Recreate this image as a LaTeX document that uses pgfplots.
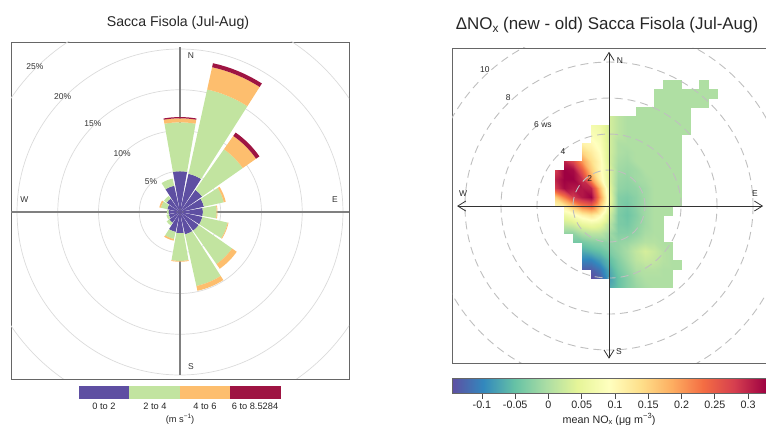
\documentclass[border=0pt]{standalone}
\usepackage{pgfplots}
\pgfplotsset{compat=1.18}
\usetikzlibrary{arrows.meta}
\usepackage{fontspec}
\setmainfont{Liberation Sans}

\definecolor{wsA}{RGB}{94,79,162}
\definecolor{wsB}{RGB}{194,228,160}
\definecolor{wsC}{RGB}{253,190,110}
\definecolor{wsD}{RGB}{158,20,66}

\newcommand\sub[1]{\raisebox{-0.3ex}{\scalebox{0.7}{#1}}}
\newcommand\sups[1]{\raisebox{0.75ex}{\scalebox{0.7}{#1}}}

% wind-rose wedge: direction (deg from N), inner %, outer %, colour
\newcommand\wsec[4]{%
  \pgfmathsetmacro\wa{80-#1}%
  \gdef\wlist{}%
  \foreach \k in {0,...,8}{\pgfmathsetmacro\ang{\wa+2.5*\k}\xdef\wlist{\wlist(\ang,#3) }}%
  \foreach \k in {8,...,0}{\pgfmathsetmacro\ang{\wa+2.5*\k}\xdef\wlist{\wlist(\ang,#2) }}%
  \edef\wtmp{\noexpand\addplot[fill=#4,draw=none,data cs=polar] coordinates {\wlist};}%
  \wtmp}

\begin{document}
\begin{tikzpicture}
\useasboundingbox (0,0) rectangle (766bp,425bp);

%================ LEFT: wind rose =================
\begin{axis}[at={(11bp,46bp)}, anchor=south west, scale only axis,
  width=338bp, height=337bp,
  xmin=-20.74, xmax=20.74, ymin=-20.49, ymax=20.86,
  xtick=\empty, ytick=\empty,
  axis line style={draw=black!60, line width=0.9bp}]
\draw[black!14, line width=0.7bp] (axis cs:0,0) circle[radius=5];
\draw[black!14, line width=0.7bp] (axis cs:0,0) circle[radius=10];
\draw[black!14, line width=0.7bp] (axis cs:0,0) circle[radius=15];
\draw[black!14, line width=0.7bp] (axis cs:0,0) circle[radius=20];
\draw[black!14, line width=0.7bp] (axis cs:0,0) circle[radius=25];
\draw[black!50, line width=1.1bp] (axis cs:-20.74,0) -- (axis cs:20.74,0);
\draw[black!50, line width=1.1bp] (axis cs:0,-20.0) -- (axis cs:0,20.3);
% direction, cumulative frequency (%) per speed class
\wsec{0}{0}{5.0}{wsA}\wsec{0}{5.0}{11.0}{wsB}\wsec{0}{11.0}{11.5}{wsC}\wsec{0}{11.5}{11.65}{wsD}
\wsec{22.5}{0}{4.8}{wsA}\wsec{22.5}{4.8}{15.4}{wsB}\wsec{22.5}{15.4}{18.2}{wsC}\wsec{22.5}{18.2}{18.7}{wsD}
\wsec{45}{0}{3.3}{wsA}\wsec{45}{3.3}{9.4}{wsB}\wsec{45}{9.4}{11.4}{wsC}\wsec{45}{11.4}{11.9}{wsD}
\wsec{67.5}{0}{3.0}{wsA}\wsec{67.5}{3.0}{5.5}{wsB}\wsec{67.5}{5.5}{5.75}{wsC}
\wsec{90}{0}{2.8}{wsA}\wsec{90}{2.8}{4.5}{wsB}\wsec{90}{4.5}{4.6}{wsC}
\wsec{112.5}{0}{2.8}{wsA}\wsec{112.5}{2.8}{6.0}{wsB}\wsec{112.5}{6.0}{6.1}{wsC}
\wsec{135}{0}{2.8}{wsA}\wsec{135}{2.8}{7.8}{wsB}\wsec{135}{7.8}{8.5}{wsC}
\wsec{157.5}{0}{2.8}{wsA}\wsec{157.5}{2.8}{9.3}{wsB}\wsec{157.5}{9.3}{9.9}{wsC}
\wsec{180}{0}{2.6}{wsA}\wsec{180}{2.6}{6.0}{wsB}\wsec{180}{6.0}{6.1}{wsC}
\wsec{202.5}{0}{2.5}{wsA}\wsec{202.5}{2.5}{3.4}{wsB}\wsec{202.5}{3.4}{3.6}{wsC}
\wsec{225}{0}{1.6}{wsA}\wsec{225}{1.6}{2.0}{wsB}
\wsec{247.5}{0}{1.4}{wsA}\wsec{247.5}{1.4}{1.7}{wsB}
\wsec{270}{0}{1.4}{wsA}\wsec{270}{1.4}{1.6}{wsB}
\wsec{292.5}{0}{1.6}{wsA}\wsec{292.5}{1.6}{2.4}{wsB}\wsec{292.5}{2.4}{2.6}{wsC}
\wsec{315}{0}{2.0}{wsA}\wsec{315}{2.0}{2.4}{wsB}
\wsec{337.5}{0}{3.3}{wsA}\wsec{337.5}{3.3}{4.2}{wsB}
\begin{scope}[every node/.style={font=\fontsize{8.5}{10}\selectfont, text=black!80}]
\node at (axis cs:1.35,19.2) {N};
\node at (axis cs:19.0,1.47) {E};
\node at (axis cs:-19.1,1.47) {W};
\node at (axis cs:1.35,-19.0) {S};
\node at (axis cs:-3.56,3.68) {5\%};
\node at (axis cs:-7.1,7.2) {10\%};
\node at (axis cs:-10.7,10.8) {15\%};
\node at (axis cs:-14.4,14.2) {20\%};
\node at (axis cs:-17.8,17.8) {25\%};
\end{scope}
\end{axis}

\node[font=\fontsize{14.2}{16}\selectfont, text=black!85] at (178bp,402bp) {Sacca Fisola (Jul-Aug)};
\fill[wsA] (79bp,26bp) rectangle (129bp,39bp);
\fill[wsB] (129bp,26bp) rectangle (180bp,39bp);
\fill[wsC] (180bp,26bp) rectangle (230bp,39bp);
\fill[wsD] (230bp,26bp) rectangle (281bp,39bp);
\begin{scope}[every node/.style={font=\fontsize{9.3}{11}\selectfont, text=black!85}]
\node at (104bp,19bp) {0 to 2};
\node at (155bp,19bp) {2 to 4};
\node at (205bp,19bp) {4 to 6};
\node at (255bp,19bp) {6 to 8.5284};
\node at (180bp,6bp) {(m s\sups{−1})};
\end{scope}

%================ RIGHT: polar plot =================
\begin{axis}[at={(452bp,62bp)}, anchor=south west, scale only axis,
  width=314bp, height=315bp,
  xmin=-8.72, xmax=8.72, ymin=-8.72, ymax=8.78,
  view={0}{90}, xtick=\empty, ytick=\empty, ztick=\empty,
  axis line style={draw=black!60, line width=0.9bp},
  colormap={spec}{rgb255=(94,79,162) rgb255=(50,136,189) rgb255=(102,194,165)
    rgb255=(171,221,164) rgb255=(230,245,152) rgb255=(255,255,191) rgb255=(254,224,139)
    rgb255=(253,174,97) rgb255=(244,109,67) rgb255=(213,62,79) rgb255=(158,1,66)},
  point meta min=-0.145, point meta max=0.327,
  unbounded coords=jump,
  colorbar horizontal,
  colorbar style={at={(parent axis.south west)}, anchor=north west, yshift=-7bp,
    scale only axis, width=314bp, height=15bp,
    xtick={-0.1,-0.05,0,0.05,0.1,0.15,0.2,0.25,0.3},
    xticklabels={-0.1,-0.05,0,0.05,0.1,0.15,0.2,0.25,0.3},
    xtick pos=bottom, tick align=outside, major tick length=5bp,
    tick style={black!70, line width=0.6bp},
    xticklabel style={font=\fontsize{10.8}{12}\selectfont, text=black!85, yshift=1bp},
    xlabel={mean NO\sub{x} (μg m\sups{−3})},
    xlabel style={font=\fontsize{10.8}{12}\selectfont, text=black!85, yshift=2bp},
    axis line style={draw=black!60}}]
\addplot3[surf, shader=interp, mesh/cols=19, point meta=z]
 table[row sep=\\, x=u, y=v, z=c] {
u v c\\
-3 -4.5 nan\\ -2.5 -4.5 nan\\ -2 -4.5 nan\\ -1.5 -4.5 nan\\ -1 -4.5 nan\\ -0.5 -4.5 nan\\ 0 -4.5 -0.07\\ 0.5 -4.5 -0.05\\ 1 -4.5 -0.03\\ 1.5 -4.5 -0.015\\ 2 -4.5 -0.005\\ 2.5 -4.5 0\\ 3 -4.5 0\\ 3.5 -4.5 0\\ 4 -4.5 nan\\ 4.5 -4.5 nan\\ 5 -4.5 nan\\ 5.5 -4.5 nan\\ 6 -4.5 nan\\
-3 -4 nan\\ -2.5 -4 nan\\ -2 -4 nan\\ -1.5 -4 nan\\ -1 -4 -0.145\\ -0.5 -4 -0.13\\ 0 -4 -0.08\\ 0.5 -4 -0.05\\ 1 -4 -0.03\\ 1.5 -4 -0.01\\ 2 -4 0\\ 2.5 -4 0\\ 3 -4 0\\ 3.5 -4 0\\ 4 -4 nan\\ 4.5 -4 nan\\ 5 -4 nan\\ 5.5 -4 nan\\ 6 -4 nan\\
-3 -3.5 nan\\ -2.5 -3.5 nan\\ -2 -3.5 nan\\ -1.5 -3.5 -0.13\\ -1 -3.5 -0.13\\ -0.5 -3.5 -0.11\\ 0 -3.5 -0.07\\ 0.5 -3.5 -0.04\\ 1 -3.5 -0.02\\ 1.5 -3.5 0\\ 2 -3.5 0.005\\ 2.5 -3.5 0.005\\ 3 -3.5 0\\ 3.5 -3.5 0\\ 4 -3.5 0\\ 4.5 -3.5 nan\\ 5 -3.5 nan\\ 5.5 -3.5 nan\\ 6 -3.5 nan\\
-3 -3 nan\\ -2.5 -3 nan\\ -2 -3 nan\\ -1.5 -3 -0.1\\ -1 -3 -0.1\\ -0.5 -3 -0.08\\ 0 -3 -0.055\\ 0.5 -3 -0.03\\ 1 -3 -0.01\\ 1.5 -3 0.01\\ 2 -3 0.02\\ 2.5 -3 0.015\\ 3 -3 0.005\\ 3.5 -3 0\\ 4 -3 0\\ 4.5 -3 nan\\ 5 -3 nan\\ 5.5 -3 nan\\ 6 -3 nan\\
-3 -2.5 nan\\ -2.5 -2.5 nan\\ -2 -2.5 nan\\ -1.5 -2.5 -0.07\\ -1 -2.5 -0.06\\ -0.5 -2.5 -0.05\\ 0 -2.5 -0.035\\ 0.5 -2.5 -0.02\\ 1 -2.5 -0.005\\ 1.5 -2.5 0.015\\ 2 -2.5 0.03\\ 2.5 -2.5 0.02\\ 3 -2.5 0.005\\ 3.5 -2.5 0\\ 4 -2.5 nan\\ 4.5 -2.5 nan\\ 5 -2.5 nan\\ 5.5 -2.5 nan\\ 6 -2.5 nan\\
-3 -2 nan\\ -2.5 -2 nan\\ -2 -2 -0.04\\ -1.5 -2 -0.04\\ -1 -2 -0.03\\ -0.5 -2 -0.025\\ 0 -2 -0.025\\ 0.5 -2 -0.02\\ 1 -2 -0.015\\ 1.5 -2 -0.005\\ 2 -2 0.005\\ 2.5 -2 0.005\\ 3 -2 0\\ 3.5 -2 0\\ 4 -2 nan\\ 4.5 -2 nan\\ 5 -2 nan\\ 5.5 -2 nan\\ 6 -2 nan\\
-3 -1.5 nan\\ -2.5 -1.5 -0.02\\ -2 -1.5 -0.02\\ -1.5 -1.5 0\\ -1 -1.5 0.01\\ -0.5 -1.5 0.01\\ 0 -1.5 -0.01\\ 0.5 -1.5 -0.03\\ 1 -1.5 -0.03\\ 1.5 -1.5 -0.02\\ 2 -1.5 -0.005\\ 2.5 -1.5 0\\ 3 -1.5 0\\ 3.5 -1.5 nan\\ 4 -1.5 nan\\ 4.5 -1.5 nan\\ 5 -1.5 nan\\ 5.5 -1.5 nan\\ 6 -1.5 nan\\
-3 -1 nan\\ -2.5 -1 0.02\\ -2 -1 0.03\\ -1.5 -1 0.05\\ -1 -1 0.06\\ -0.5 -1 0.05\\ 0 -1 0.01\\ 0.5 -1 -0.035\\ 1 -1 -0.04\\ 1.5 -1 -0.025\\ 2 -1 -0.01\\ 2.5 -1 0\\ 3 -1 0\\ 3.5 -1 nan\\ 4 -1 nan\\ 4.5 -1 nan\\ 5 -1 nan\\ 5.5 -1 nan\\ 6 -1 nan\\
-3 -0.5 nan\\ -2.5 -0.5 0.06\\ -2 -0.5 0.08\\ -1.5 -0.5 0.11\\ -1 -0.5 0.13\\ -0.5 -0.5 0.1\\ 0 -0.5 0.03\\ 0.5 -0.5 -0.035\\ 1 -0.5 -0.045\\ 1.5 -0.5 -0.03\\ 2 -0.5 -0.01\\ 2.5 -0.5 0\\ 3 -0.5 0\\ 3.5 -0.5 0\\ 4 -0.5 nan\\ 4.5 -0.5 nan\\ 5 -0.5 nan\\ 5.5 -0.5 nan\\ 6 -0.5 nan\\
-3 0 0.1\\ -2.5 0 0.12\\ -2 0 0.17\\ -1.5 0 0.22\\ -1 0 0.24\\ -0.5 0 0.16\\ 0 0 0.05\\ 0.5 0 -0.03\\ 1 0 -0.04\\ 1.5 0 -0.025\\ 2 0 -0.01\\ 2.5 0 0\\ 3 0 0\\ 3.5 0 0\\ 4 0 0\\ 4.5 0 nan\\ 5 0 nan\\ 5.5 0 nan\\ 6 0 nan\\
-3 0.5 0.16\\ -2.5 0.5 0.22\\ -2 0.5 0.28\\ -1.5 0.5 0.31\\ -1 0.5 0.33\\ -0.5 0.5 0.2\\ 0 0.5 0.06\\ 0.5 0.5 -0.03\\ 1 0.5 -0.035\\ 1.5 0.5 -0.025\\ 2 0.5 -0.01\\ 2.5 0.5 0\\ 3 0.5 0\\ 3.5 0.5 0\\ 4 0.5 0\\ 4.5 0.5 nan\\ 5 0.5 nan\\ 5.5 0.5 nan\\ 6 0.5 nan\\
-3 1 0.28\\ -2.5 1 0.32\\ -2 1 0.31\\ -1.5 1 0.31\\ -1 1 0.3\\ -0.5 1 0.17\\ 0 1 0.05\\ 0.5 1 -0.02\\ 1 1 -0.025\\ 1.5 1 -0.02\\ 2 1 -0.01\\ 2.5 1 0\\ 3 1 0\\ 3.5 1 0\\ 4 1 0\\ 4.5 1 nan\\ 5 1 nan\\ 5.5 1 nan\\ 6 1 nan\\
-3 1.5 0.3\\ -2.5 1.5 0.33\\ -2 1.5 0.33\\ -1.5 1.5 0.29\\ -1 1.5 0.2\\ -0.5 1.5 0.11\\ 0 1.5 0.04\\ 0.5 1.5 -0.015\\ 1 1.5 -0.02\\ 1.5 1.5 -0.01\\ 2 1.5 -0.005\\ 2.5 1.5 0\\ 3 1.5 0\\ 3.5 1.5 0\\ 4 1.5 0\\ 4.5 1.5 nan\\ 5 1.5 nan\\ 5.5 1.5 nan\\ 6 1.5 nan\\
-3 2 0.28\\ -2.5 2 0.33\\ -2 2 0.32\\ -1.5 2 0.25\\ -1 2 0.16\\ -0.5 2 0.1\\ 0 2 0.04\\ 0.5 2 -0.01\\ 1 2 -0.015\\ 1.5 2 -0.01\\ 2 2 0\\ 2.5 2 0\\ 3 2 0\\ 3.5 2 0\\ 4 2 0\\ 4.5 2 nan\\ 5 2 nan\\ 5.5 2 nan\\ 6 2 nan\\
-3 2.5 nan\\ -2.5 2.5 0.3\\ -2 2.5 0.27\\ -1.5 2.5 0.2\\ -1 2.5 0.14\\ -0.5 2.5 0.1\\ 0 2.5 0.03\\ 0.5 2.5 -0.005\\ 1 2.5 -0.01\\ 1.5 2.5 0\\ 2 2.5 0\\ 2.5 2.5 0\\ 3 2.5 0\\ 3.5 2.5 0\\ 4 2.5 0\\ 4.5 2.5 nan\\ 5 2.5 nan\\ 5.5 2.5 nan\\ 6 2.5 nan\\
-3 3 nan\\ -2.5 3 nan\\ -2 3 nan\\ -1.5 3 0.15\\ -1 3 0.12\\ -0.5 3 0.09\\ 0 3 0.03\\ 0.5 3 0\\ 1 3 -0.005\\ 1.5 3 0\\ 2 3 0\\ 2.5 3 0\\ 3 3 0\\ 3.5 3 0\\ 4 3 0\\ 4.5 3 nan\\ 5 3 nan\\ 5.5 3 nan\\ 6 3 nan\\
-3 3.5 nan\\ -2.5 3.5 nan\\ -2 3.5 nan\\ -1.5 3.5 0.11\\ -1 3.5 0.1\\ -0.5 3.5 0.08\\ 0 3.5 0.03\\ 0.5 3.5 0\\ 1 3.5 0\\ 1.5 3.5 0\\ 2 3.5 0\\ 2.5 3.5 0\\ 3 3.5 0\\ 3.5 3.5 0\\ 4 3.5 0\\ 4.5 3.5 nan\\ 5 3.5 nan\\ 5.5 3.5 nan\\ 6 3.5 nan\\
-3 4 nan\\ -2.5 4 nan\\ -2 4 nan\\ -1.5 4 nan\\ -1 4 0.08\\ -0.5 4 0.07\\ 0 4 0.03\\ 0.5 4 0.01\\ 1 4 0\\ 1.5 4 0\\ 2 4 0\\ 2.5 4 0\\ 3 4 0\\ 3.5 4 0\\ 4 4 0\\ 4.5 4 0\\ 5 4 nan\\ 5.5 4 nan\\ 6 4 nan\\
-3 4.5 nan\\ -2.5 4.5 nan\\ -2 4.5 nan\\ -1.5 4.5 nan\\ -1 4.5 0.07\\ -0.5 4.5 0.06\\ 0 4.5 0.03\\ 0.5 4.5 0.01\\ 1 4.5 0\\ 1.5 4.5 0\\ 2 4.5 0\\ 2.5 4.5 0\\ 3 4.5 0\\ 3.5 4.5 0\\ 4 4.5 0\\ 4.5 4.5 0\\ 5 4.5 nan\\ 5.5 4.5 nan\\ 6 4.5 nan\\
-3 5 nan\\ -2.5 5 nan\\ -2 5 nan\\ -1.5 5 nan\\ -1 5 nan\\ -0.5 5 nan\\ 0 5 0.03\\ 0.5 5 0.01\\ 1 5 0\\ 1.5 5 0\\ 2 5 0\\ 2.5 5 0\\ 3 5 0\\ 3.5 5 0\\ 4 5 0\\ 4.5 5 0\\ 5 5 nan\\ 5.5 5 nan\\ 6 5 nan\\
-3 5.5 nan\\ -2.5 5.5 nan\\ -2 5.5 nan\\ -1.5 5.5 nan\\ -1 5.5 nan\\ -0.5 5.5 nan\\ 0 5.5 nan\\ 0.5 5.5 nan\\ 1 5.5 nan\\ 1.5 5.5 0\\ 2 5.5 0\\ 2.5 5.5 0\\ 3 5.5 0\\ 3.5 5.5 0\\ 4 5.5 0\\ 4.5 5.5 0\\ 5 5.5 0\\ 5.5 5.5 0\\ 6 5.5 nan\\
-3 6 nan\\ -2.5 6 nan\\ -2 6 nan\\ -1.5 6 nan\\ -1 6 nan\\ -0.5 6 nan\\ 0 6 nan\\ 0.5 6 nan\\ 1 6 nan\\ 1.5 6 nan\\ 2 6 nan\\ 2.5 6 0\\ 3 6 0\\ 3.5 6 0\\ 4 6 0\\ 4.5 6 0\\ 5 6 0\\ 5.5 6 0\\ 6 6 0\\
-3 6.5 nan\\ -2.5 6.5 nan\\ -2 6.5 nan\\ -1.5 6.5 nan\\ -1 6.5 nan\\ -0.5 6.5 nan\\ 0 6.5 nan\\ 0.5 6.5 nan\\ 1 6.5 nan\\ 1.5 6.5 nan\\ 2 6.5 nan\\ 2.5 6.5 0\\ 3 6.5 0\\ 3.5 6.5 0\\ 4 6.5 0\\ 4.5 6.5 0\\ 5 6.5 0\\ 5.5 6.5 0\\ 6 6.5 0\\
-3 7 nan\\ -2.5 7 nan\\ -2 7 nan\\ -1.5 7 nan\\ -1 7 nan\\ -0.5 7 nan\\ 0 7 nan\\ 0.5 7 nan\\ 1 7 nan\\ 1.5 7 nan\\ 2 7 nan\\ 2.5 7 nan\\ 3 7 0\\ 3.5 7 0\\ 4 7 0\\ 4.5 7 nan\\ 5 7 0\\ 5.5 7 0\\ 6 7 nan\\
};
\end{axis}

\begin{axis}[at={(452bp,62bp)}, anchor=south west, scale only axis,
  width=314bp, height=315bp,
  xmin=-8.72, xmax=8.72, ymin=-8.72, ymax=8.78, hide axis, clip=true]
\draw[black!25, line width=0.9bp, dash pattern=on 8bp off 5bp] (axis cs:0,0) circle[radius=2];
\draw[black!25, line width=0.9bp, dash pattern=on 8bp off 5bp] (axis cs:0,0) circle[radius=4];
\draw[black!25, line width=0.9bp, dash pattern=on 8bp off 5bp] (axis cs:0,0) circle[radius=6];
\draw[black!25, line width=0.9bp, dash pattern=on 8bp off 5bp] (axis cs:0,0) circle[radius=8];
\draw[black!25, line width=0.9bp, dash pattern=on 8bp off 5bp] (axis cs:0,0) circle[radius=10];
\draw[black!80, line width=0.8bp, {Straight Barb[length=8bp,width=10bp]}-{Straight Barb[length=8bp,width=10bp]}] (axis cs:0,-8.48) -- (axis cs:0,8.57);
\draw[black!80, line width=0.8bp, {Straight Barb[length=8bp,width=10bp]}-{Straight Barb[length=8bp,width=10bp]}] (axis cs:-8.44,0) -- (axis cs:8.56,0);
\begin{scope}[every node/.style={font=\fontsize{8.5}{10}\selectfont, text=black!85}]
\node at (axis cs:0.6,8.1) {N};
\node at (axis cs:0.55,-8.1) {S};
\node at (axis cs:-8.1,0.67) {W};
\node at (axis cs:8.1,0.67) {E};
\node at (axis cs:-6.9,7.56) {10};
\node at (axis cs:-5.6,6.05) {8};
\node at (axis cs:-3.67,4.5) {6 ws};
\node at (axis cs:-2.55,3.0) {4};
\node at (axis cs:-1.07,1.5) {2};
\end{scope}
\end{axis}

\node[font=\fontsize{17}{19}\selectfont, text=black!85] at (607bp,400bp) {ΔNO\sub{x} (new - old) Sacca Fisola (Jul-Aug)};
\end{tikzpicture}
\end{document}
